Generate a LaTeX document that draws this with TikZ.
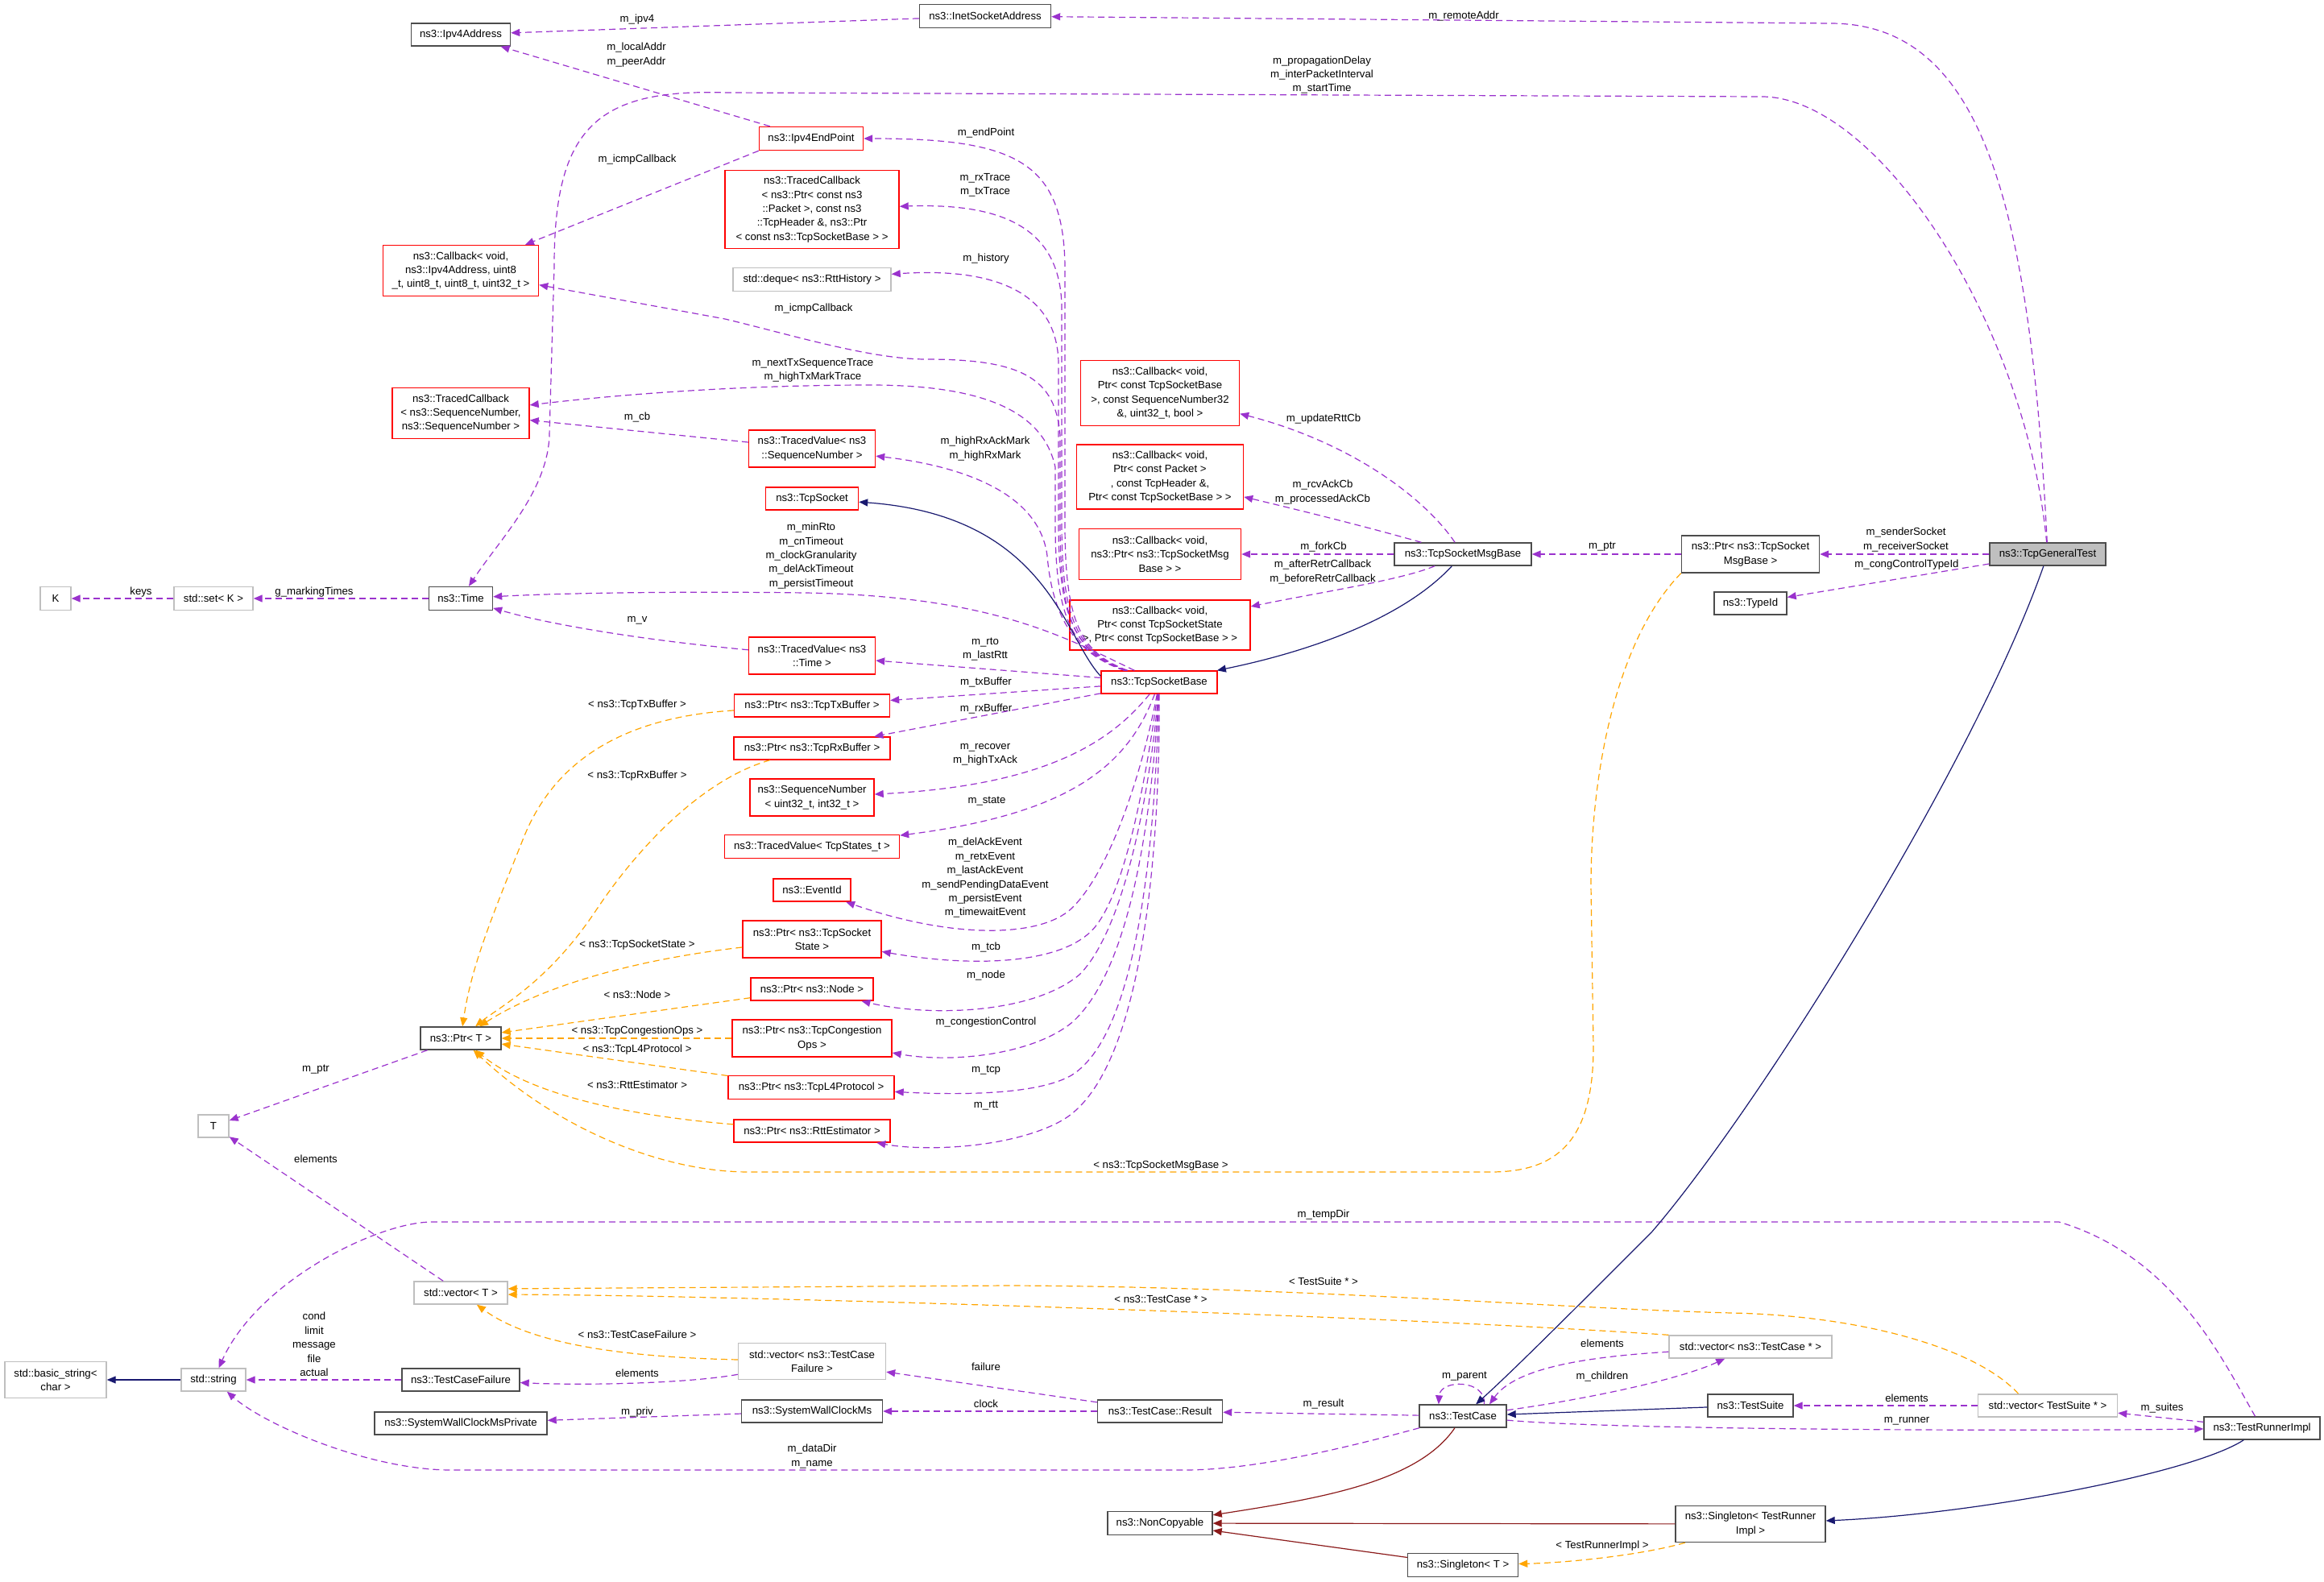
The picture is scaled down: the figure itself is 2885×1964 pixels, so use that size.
\documentclass[tikz,border=0pt]{standalone}
\usepackage{fontspec}
\setmainfont{Liberation Sans}
\usepackage{xcolor}
\usetikzlibrary{arrows.meta}
\definecolor{usecol}{RGB}{154,50,205}
\definecolor{tplcol}{RGB}{255,165,0}
\definecolor{isacol}{RGB}{25,25,112}
\definecolor{ncpcol}{RGB}{139,26,26}
\definecolor{boxgray}{RGB}{191,191,191}

\begin{document}
\begin{tikzpicture}[x=1pt,y=-1pt,
 every node/.style={font=\fontsize{13.2}{17.4}\selectfont},
 box/.style={line width=1.4pt,inner sep=2pt,align=center},
 cls/.style={box,draw=black!70},
 rcls/.style={box,draw=red},
 gcls/.style={box,draw=boxgray},
 lbl/.style={inner sep=0pt,align=center},
 arrowhd/.style={-{Triangle[length=11pt,width=9pt]}},
 usage/.style={arrowhd,usecol,line width=1.2pt,dash pattern=on 8pt off 5pt},
 tmpl/.style={arrowhd,tplcol,line width=1.2pt,dash pattern=on 8pt off 5pt},
 isa/.style={arrowhd,isacol,line width=1.2pt},
 ncp/.style={arrowhd,ncpcol,line width=1.2pt}]
\useasboundingbox (0,0) rectangle (2885,1964);

\node[cls,minimum width=123,minimum height=28] (ipv4) at (572,43) {ns3::Ipv4Address};
\node[cls,minimum width=163,minimum height=29] (inet) at (1223,20) {ns3::InetSocketAddress};
\node[rcls,minimum width=193,minimum height=63] (cbip) at (572,336) {ns3::Callback< void,\\ ns3::Ipv4Address, uint8\\\_t, uint8\_t, uint8\_t, uint32\_t >};
\node[rcls,minimum width=170,minimum height=63] (tcseq) at (572,513) {ns3::TracedCallback\\< ns3::SequenceNumber,\\ ns3::SequenceNumber >};
\node[rcls,minimum width=129,minimum height=29] (endpt) at (1007,172) {ns3::Ipv4EndPoint};
\node[rcls,minimum width=216,minimum height=97] (tcpkt) at (1008,260) {ns3::TracedCallback\\< ns3::Ptr< const ns3\\::Packet >, const ns3\\::TcpHeader \&, ns3::Ptr\\< const ns3::TcpSocketBase > >};
\node[gcls,minimum width=196,minimum height=29] (deque) at (1008,347) {std::deque< ns3::RttHistory >};
\node[rcls,minimum width=197,minimum height=81] (cbrtt) at (1440,488) {ns3::Callback< void,\\ Ptr< const TcpSocketBase\\>, const SequenceNumber32\\\&, uint32\_t, bool >};
\node[rcls,minimum width=157,minimum height=46] (tvseq) at (1008,557) {ns3::TracedValue< ns3\\::SequenceNumber >};
\node[rcls,minimum width=207,minimum height=80] (cbpkt) at (1440,592) {ns3::Callback< void,\\ Ptr< const Packet >\\, const TcpHeader \&,\\ Ptr< const TcpSocketBase > >};
\node[rcls,minimum width=115,minimum height=28] (tcpsock) at (1008,619) {ns3::TcpSocket};
\node[rcls,minimum width=201,minimum height=63] (cbfork) at (1440,688) {ns3::Callback< void,\\ ns3::Ptr< ns3::TcpSocketMsg\\Base > >};
\node[cls,minimum width=170,minimum height=28] (msgb) at (1816,688) {ns3::TcpSocketMsgBase};
\node[rcls,minimum width=224,minimum height=62] (cbstate) at (1440,776) {ns3::Callback< void,\\ Ptr< const TcpSocketState\\>, Ptr< const TcpSocketBase > >};
\node[cls,minimum width=79,minimum height=29] (time) at (572,743) {ns3::Time};
\node[gcls,minimum width=98,minimum height=29] (sset) at (265,743) {std::set< K >};
\node[gcls,minimum width=38,minimum height=29] (kk) at (69,743) {K};
\node[rcls,minimum width=157,minimum height=46] (tvtime) at (1008,814) {ns3::TracedValue< ns3\\::Time >};
\node[rcls,minimum width=144,minimum height=28] (tsb) at (1439,847) {ns3::TcpSocketBase};
\node[rcls,minimum width=193,minimum height=28] (ptx) at (1008,876) {ns3::Ptr< ns3::TcpTxBuffer >};
\node[rcls,minimum width=194,minimum height=28] (prx) at (1008,929) {ns3::Ptr< ns3::TcpRxBuffer >};
\node[rcls,minimum width=154,minimum height=46] (seqn) at (1008,990) {ns3::SequenceNumber\\< uint32\_t, int32\_t >};
\node[rcls,minimum width=217,minimum height=29] (tvst) at (1008,1051) {ns3::TracedValue< TcpStates\_t >};
\node[rcls,minimum width=96,minimum height=28] (evid) at (1008,1105) {ns3::EventId};
\node[rcls,minimum width=172,minimum height=46] (ptcb) at (1008,1166) {ns3::Ptr< ns3::TcpSocket\\State >};
\node[rcls,minimum width=152,minimum height=28] (pnode) at (1008,1228) {ns3::Ptr< ns3::Node >};
\node[rcls,minimum width=198,minimum height=46] (pcong) at (1008,1289) {ns3::Ptr< ns3::TcpCongestion\\Ops >};
\node[rcls,minimum width=206,minimum height=29] (pl4) at (1007,1350) {ns3::Ptr< ns3::TcpL4Protocol >};
\node[rcls,minimum width=194,minimum height=28] (prtt) at (1008,1404) {ns3::Ptr< ns3::RttEstimator >};
\node[cls,minimum width=100,minimum height=28] (ptrt) at (572,1289) {ns3::Ptr< T >};
\node[gcls,minimum width=38,minimum height=28] (tt) at (265,1398) {T};
\node[cls,minimum width=171,minimum height=46] (pmsg) at (2173,688) {ns3::Ptr< ns3::TcpSocket\\MsgBase >};
\node[cls,fill=boxgray,minimum width=144,minimum height=28] (gtest) at (2542,688) {ns3::TcpGeneralTest};
\node[cls,minimum width=90,minimum height=28] (typeid) at (2173,749) {ns3::TypeId};
\node[gcls,minimum width=116,minimum height=28] (vect) at (572,1605) {std::vector< T >};
\node[gcls,minimum width=126,minimum height=45] (bstr) at (69,1713) {std::basic\_string<\\char >};
\node[gcls,minimum width=80,minimum height=28] (sstr) at (265,1713) {std::string};
\node[cls,minimum width=146,minimum height=28] (tcf) at (572,1713) {ns3::TestCaseFailure};
\node[cls,minimum width=214,minimum height=28] (swcp) at (572,1767) {ns3::SystemWallClockMsPrivate};
\node[gcls,minimum width=183,minimum height=45] (vtcf) at (1008,1690) {std::vector< ns3::TestCase\\Failure >};
\node[cls,minimum width=175,minimum height=28] (swc) at (1008,1752) {ns3::SystemWallClockMs};
\node[cls,minimum width=155,minimum height=28] (res) at (1440,1752) {ns3::TestCase::Result};
\node[cls,minimum width=108,minimum height=28] (tcase) at (1816,1758) {ns3::TestCase};
\node[cls,minimum width=130,minimum height=29] (noncp) at (1440,1891) {ns3::NonCopyable};
\node[cls,minimum width=137,minimum height=29] (singt) at (1816,1943) {ns3::Singleton< T >};
\node[gcls,minimum width=202,minimum height=28] (vtc) at (2173,1672) {std::vector< ns3::TestCase * >};
\node[cls,minimum width=106,minimum height=28] (tsuite) at (2173,1745) {ns3::TestSuite};
\node[gcls,minimum width=173,minimum height=28] (vts) at (2542,1745) {std::vector< TestSuite * >};
\node[cls,minimum width=144,minimum height=28] (trunner) at (2808,1773) {ns3::TestRunnerImpl};
\node[cls,minimum width=186,minimum height=45] (sing) at (2173,1892) {ns3::Singleton< TestRunner\\Impl >};

\node[lbl] (lipv4) at (791,24) {m\_ipv4};
\node[lbl] (laddr) at (790,68) {m\_localAddr\\m\_peerAddr};
\node[lbl] (lremote) at (1817,20) {m\_remoteAddr};
\node[lbl] (ldelay) at (1641,93) {m\_propagationDelay\\m\_interPacketInterval\\m\_startTime};
\node[lbl] (licmpa) at (791,198) {m\_icmpCallback};
\node[lbl] (lendpt) at (1224,165) {m\_endPoint};
\node[lbl] (ltrace) at (1223,230) {m\_rxTrace\\m\_txTrace};
\node[lbl] (lhist) at (1224,321) {m\_history};
\node[lbl] (licmpb) at (1010,383) {m\_icmpCallback};
\node[lbl] (lnexttx) at (1009,460) {m\_nextTxSequenceTrace\\m\_highTxMarkTrace};
\node[lbl] (lcb) at (791,518) {m\_cb};
\node[lbl] (lrttcb) at (1643,520) {m\_updateRttCb};
\node[lbl] (lrxmark) at (1223,557) {m\_highRxAckMark\\m\_highRxMark};
\node[lbl] (lack) at (1642,611) {m\_rcvAckCb\\m\_processedAckCb};
\node[lbl] (lfork) at (1643,679) {m\_forkCb};
\node[lbl] (lretr) at (1642,710) {m\_afterRetrCallback\\m\_beforeRetrCallback};
\node[lbl] (ltimes) at (1007,690) {m\_minRto\\m\_cnTimeout\\m\_clockGranularity\\m\_delAckTimeout\\m\_persistTimeout};
\node[lbl] (lkeys) at (175,735) {keys};
\node[lbl] (lmark) at (390,735) {g\_markingTimes};
\node[lbl] (lv) at (791,770) {m\_v};
\node[lbl] (lrto) at (1223,806) {m\_rto\\m\_lastRtt};
\node[lbl] (ltxbuf) at (1224,847) {m\_txBuffer};
\node[lbl] (lrxbuf) at (1224,880) {m\_rxBuffer};
\node[lbl] (lrecov) at (1223,937) {m\_recover\\m\_highTxAck};
\node[lbl] (lstate) at (1225,995) {m\_state};
\node[lbl] (levents) at (1223,1090) {m\_delAckEvent\\m\_retxEvent\\m\_lastAckEvent\\m\_sendPendingDataEvent\\m\_persistEvent\\m\_timewaitEvent};
\node[lbl] (ltcb) at (1224,1176) {m\_tcb};
\node[lbl] (lnode) at (1224,1211) {m\_node};
\node[lbl] (lcong) at (1224,1269) {m\_congestionControl};
\node[lbl] (ltcp) at (1224,1329) {m\_tcp};
\node[lbl] (lrtt) at (1224,1373) {m\_rtt};
\node[lbl] (ltxt) at (791,875) {< ns3::TcpTxBuffer >};
\node[lbl] (lrxt) at (791,963) {< ns3::TcpRxBuffer >};
\node[lbl] (lstt) at (791,1173) {< ns3::TcpSocketState >};
\node[lbl] (lnodet) at (791,1235) {< ns3::Node >};
\node[lbl] (lcongt) at (791,1280) {< ns3::TcpCongestionOps >};
\node[lbl] (ll4t) at (791,1303) {< ns3::TcpL4Protocol >};
\node[lbl] (lrttt) at (791,1347) {< ns3::RttEstimator >};
\node[lbl] (lmptr) at (392,1328) {m\_ptr};
\node[lbl] (lelemt) at (392,1439) {elements};
\node[lbl] (lmsgt) at (1441,1447) {< ns3::TcpSocketMsgBase >};
\node[lbl] (ltemp) at (1643,1508) {m\_tempDir};
\node[lbl] (lsuitet) at (1643,1591) {< TestSuite * >};
\node[lbl] (lcaset) at (1441,1613) {< ns3::TestCase * >};
\node[lbl] (lfields) at (390,1669) {cond\\limit\\message\\file\\actual};
\node[lbl] (lfailt) at (791,1657) {< ns3::TestCaseFailure >};
\node[lbl] (lelemf) at (791,1705) {elements};
\node[lbl] (lpriv) at (791,1753) {m\_priv};
\node[lbl] (lfail) at (1224,1697) {failure};
\node[lbl] (lclock) at (1224,1743) {clock};
\node[lbl] (lresult) at (1643,1743) {m\_result};
\node[lbl] (lparent) at (1818,1709) {m\_parent};
\node[lbl] (ldata) at (1008,1808) {m\_dataDir\\m\_name};
\node[lbl] (lelemc) at (1989,1668) {elements};
\node[lbl] (lchild) at (1989,1709) {m\_children};
\node[lbl] (lelems) at (2367,1736) {elements};
\node[lbl] (lsuites) at (2684,1748) {m\_suites};
\node[lbl] (lrunner) at (2367,1764) {m\_runner};
\node[lbl] (lrunt) at (1989,1919) {< TestRunnerImpl >};
\node[lbl] (lsock) at (2366,670) {m\_senderSocket\\m\_receiverSocket};
\node[lbl] (ltype) at (2367,701) {m\_congControlTypeId};
\node[lbl] (lmptrb) at (1989,679) {m\_ptr};

\draw[usage] (inet) -- (ipv4);
\draw[usage] (endpt) -- (ipv4);
\draw[usage] (gtest) .. controls (2520,250) and (2460,29) .. (2272,29) -- (inet);
\draw[usage] (gtest) .. controls (2515,400) and (2330,120) .. (2187,120) -- (900,115) .. controls (740,110) and (688,160) .. (688,330) -- (682,540) .. controls (680,610) and (620,670) .. (time);
\draw[usage] (endpt.south west) -- (cbip);
\draw[usage] (tsb) .. controls (1340,810) and (1322,770) .. (1322,650) -- (1322,330) .. controls (1320,200) and (1260,172) .. (endpt);
\draw[usage] (tsb) .. controls (1338,810) and (1318,770) .. (1318,650) -- (1318,380) .. controls (1316,280) and (1240,252) .. (tcpkt);
\draw[usage] (tsb) .. controls (1336,810) and (1314,770) .. (1314,650) -- (1314,450) .. controls (1312,360) and (1230,332) .. (deque);
\draw[usage] (tsb) .. controls (1334,810) and (1316,770) .. (1316,650) -- (1316,540) .. controls (1310,470) and (1270,446) .. (1150,446) .. controls (1080,446) and (980,415) .. (900,396) -- (cbip);
\draw[usage] (tsb) .. controls (1332,810) and (1310,770) .. (1310,650) -- (1310,580) .. controls (1295,510) and (1220,478) .. (1080,478) .. controls (950,478) and (800,486) .. (tcseq);
\draw[usage] (tvseq) -- (tcseq);
\draw[usage] (tsb) .. controls (1330,810) and (1306,760) .. (1300,690) .. controls (1290,610) and (1190,578) .. (tvseq);
\draw[usage] (msgb) .. controls (1770,620) and (1680,550) .. (cbrtt);
\draw[usage] (msgb) .. controls (1700,655) and (1620,635) .. (cbpkt);
\draw[usage] (msgb) -- (cbfork);
\draw[usage] (msgb) .. controls (1740,720) and (1640,735) .. (cbstate);
\draw[usage] (tsb) .. controls (1320,790) and (1230,740) .. (1000,736) .. controls (850,734) and (700,736) .. (time);
\draw[usage] (tvtime) .. controls (800,795) and (680,775) .. (time);
\draw[usage] (tsb) -- (tvtime);
\draw[usage] (tsb) -- (ptx);
\draw[usage] (tsb) -- (prx);
\draw[usage] (tsb) .. controls (1380,920) and (1300,975) .. (seqn);
\draw[usage] (tsb) .. controls (1400,950) and (1330,1010) .. (tvst);
\draw[usage] (tsb) .. controls (1420,950) and (1380,1080) .. (1330,1128) .. controls (1290,1165) and (1180,1165) .. (evid);
\draw[usage] (tsb) .. controls (1425,950) and (1400,1100) .. (1360,1150) .. controls (1320,1200) and (1200,1200) .. (ptcb);
\draw[usage] (tsb) .. controls (1430,960) and (1400,1150) .. (1340,1210) .. controls (1280,1260) and (1150,1262) .. (pnode);
\draw[usage] (tsb) .. controls (1432,980) and (1410,1200) .. (1330,1270) .. controls (1280,1310) and (1180,1320) .. (pcong);
\draw[usage] (tsb) .. controls (1435,1000) and (1420,1280) .. (1330,1335) .. controls (1290,1358) and (1200,1360) .. (pl4);
\draw[usage] (tsb) .. controls (1440,1050) and (1420,1330) .. (1320,1390) .. controls (1260,1425) and (1150,1430) .. (prtt);
\draw[usage] (sset) -- (kk);
\draw[usage] (time) -- (sset);
\draw[usage] (ptrt) -- (tt);
\draw[usage] (vect) -- (tt);
\draw[usage] (trunner) .. controls (2760,1690) and (2700,1560) .. (2556,1517) -- (536,1517) .. controls (470,1517) and (320,1590) .. (sstr);
\draw[usage] (tcf) -- (sstr);
\draw[usage] (tcase) .. controls (1680,1795) and (1560,1825) .. (1470,1825) -- (560,1825) .. controls (460,1825) and (330,1770) .. (sstr);
\draw[usage] (vtcf) .. controls (850,1718) and (720,1720) .. (tcf);
\draw[usage] (swc) -- (swcp);
\draw[usage] (res) -- (vtcf);
\draw[usage] (res) -- (swc);
\draw[usage] (tcase) -- (res);
\draw[usage] (tcase.29) .. controls (1845,1712) and (1788,1712) .. (tcase.154);
\draw[usage] (vtc) .. controls (1960,1685) and (1880,1700) .. (tcase.24);
\draw[usage] (tcase) .. controls (1950,1740) and (2080,1715) .. (vtc);
\draw[usage] (vts) -- (tsuite);
\draw[usage] (trunner) -- (vts);
\draw[usage] (tcase) .. controls (2000,1775) and (2500,1777) .. (trunner);
\draw[usage] (gtest) -- (pmsg);
\draw[usage] (gtest) -- (typeid);
\draw[usage] (pmsg) -- (msgb);

\draw[tmpl] (ptx) .. controls (780,890) and (690,940) .. (650,1040) .. controls (610,1140) and (585,1200) .. (ptrt);
\draw[tmpl] (prx) .. controls (880,965) and (800,1040) .. (740,1130) .. controls (680,1220) and (620,1250) .. (ptrt);
\draw[tmpl] (ptcb) .. controls (800,1190) and (680,1220) .. (ptrt);
\draw[tmpl] (pnode) -- (ptrt);
\draw[tmpl] (pcong) -- (ptrt);
\draw[tmpl] (pl4) -- (ptrt);
\draw[tmpl] (prtt) .. controls (780,1385) and (660,1360) .. (ptrt);
\draw[tmpl] (pmsg.south west) .. controls (2010,790) and (1975,950) .. (1975,1100) -- (1978,1300) .. controls (1978,1420) and (1930,1455) .. (1850,1455) -- (930,1455) .. controls (820,1455) and (690,1400) .. (ptrt);
\draw[tmpl] (vtcf) .. controls (780,1685) and (660,1670) .. (vect);
\draw[tmpl] (vtc.north west) .. controls (1700,1632) and (900,1608) .. (vect.-2);
\draw[tmpl] (vts.158) .. controls (2450,1670) and (2300,1633) .. (2150,1630) .. controls (1950,1625) and (1600,1597) .. (1250,1596) -- (vect.5);
\draw[tmpl] (sing) .. controls (2040,1930) and (1950,1940) .. (singt);

\draw[isa] (tsb.174) .. controls (1320,790) and (1300,640) .. (tcpsock);
\draw[isa] (msgb) .. controls (1740,770) and (1620,810) .. (tsb);
\draw[isa] (gtest) .. controls (2450,950) and (2180,1380) .. (2050,1530) .. controls (1950,1630) and (1880,1700) .. (tcase);
\draw[isa] (tsuite) -- (tcase);
\draw[isa] (trunner) .. controls (2720,1830) and (2450,1880) .. (sing);
\draw[isa] (sstr) -- (bstr);

\draw[ncp] (tcase) .. controls (1760,1840) and (1640,1860) .. (noncp);
\draw[ncp] (sing) -- (noncp);
\draw[ncp] (singt) -- (noncp);
\end{tikzpicture}
\end{document}
